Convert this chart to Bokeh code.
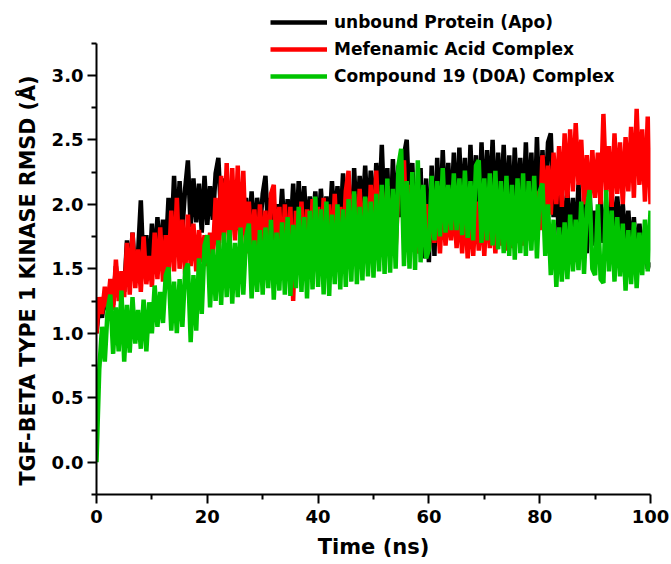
import numpy as np
from bokeh.plotting import figure
from bokeh.models import (ColumnDataSource, FixedTicker, Legend, LegendItem,
                          Title, PrintfTickFormatter)
from bokeh.embed import file_html
from bokeh.resources import INLINE

# RMSD traces (Å), sampled every 0.5 ns from 0 to 100 ns
TIME_STEP_NS = 0.5

apo_rmsd = [
    1.00, 1.22, 1.12, 1.30, 1.18, 1.38, 1.22, 1.52, 1.28, 1.45,
    1.32, 1.72, 1.40, 1.78, 1.45, 1.62, 2.03, 1.48, 1.76, 1.42,
    1.85, 1.52, 1.90, 1.58, 1.88, 1.62, 2.05, 1.70, 2.22, 1.75,
    2.18, 1.80, 2.12, 2.34, 1.82, 2.20, 1.86, 2.16, 1.78, 2.22,
    1.84, 2.14, 1.88, 2.24, 2.36, 1.90, 2.20, 1.85, 2.18, 1.92,
    2.15, 1.80, 2.12, 1.78, 2.05, 1.75, 2.10, 1.72, 2.05, 1.80,
    2.08, 2.22, 1.76, 2.05, 1.72, 2.00, 1.78, 2.12, 1.70, 2.04,
    1.75, 2.16, 1.72, 2.18, 1.80, 2.14, 1.74, 2.06, 1.82, 2.10,
    1.76, 2.12, 1.80, 2.06, 1.78, 2.18, 1.84, 2.14, 1.80, 2.24,
    1.86, 2.20, 1.57, 2.28, 1.82, 2.22, 1.90, 2.30, 1.85, 2.26,
    1.80, 2.32, 1.92, 2.46, 1.88, 2.28, 1.70, 2.35, 1.86, 2.30,
    1.90, 2.38, 2.50, 1.95, 2.32, 1.80, 1.62, 2.28, 1.58, 2.20,
    1.55, 2.30, 1.60, 2.36, 1.80, 2.42, 1.90, 2.32, 1.85, 2.40,
    1.88, 2.44, 1.92, 2.36, 1.80, 2.46, 1.95, 2.38, 1.78, 2.48,
    1.90, 2.42, 2.00, 2.50, 1.85, 2.40, 1.95, 2.46, 1.88, 2.38,
    1.82, 2.44, 1.95, 2.36, 1.86, 2.48, 1.92, 2.40, 1.80, 2.52,
    1.92, 2.42, 2.00, 2.48, 2.55, 1.90, 2.20, 1.70, 2.12, 1.65,
    2.10, 1.70, 2.05, 1.65, 2.16, 1.72, 2.00, 1.62, 2.08, 1.68,
    1.95, 1.62, 2.05, 1.70, 1.98, 1.66, 2.08, 1.75, 2.06, 1.78,
    2.00, 1.68, 1.95, 1.60, 1.90, 1.55, 1.85, 1.62, 1.80, 1.50,
    1.55,
]

mefenamic_rmsd = [
    1.00, 1.28, 1.15, 1.36, 1.20, 1.42, 1.18, 1.57, 1.25, 1.48,
    1.28, 1.70, 1.30, 1.78, 1.35, 1.65, 1.32, 1.75, 1.38, 1.60,
    1.36, 1.78, 1.42, 1.82, 1.40, 1.76, 1.45, 1.95, 1.48, 2.05,
    1.50, 1.88, 1.46, 1.92, 1.52, 1.85, 1.48, 1.80, 1.55, 1.76,
    1.52, 1.78, 1.60, 2.05, 1.62, 2.22, 1.70, 2.32, 1.66, 2.28,
    1.72, 2.30, 1.68, 2.26, 1.62, 2.02, 1.60, 1.96, 1.55, 2.00,
    1.58, 1.95, 1.52, 2.08, 2.15, 1.55, 1.98, 1.50, 2.00, 1.48,
    1.98, 1.25, 1.95, 1.50, 2.02, 1.48, 1.96, 1.52, 2.04, 1.55,
    1.98, 1.52, 2.05, 1.58, 2.00, 1.55, 2.08, 1.60, 1.98, 1.62,
    2.10, 2.26, 1.65, 2.08, 1.62, 2.12, 1.68, 2.05, 1.60, 2.15,
    1.70, 2.26, 1.75, 2.10, 1.68, 2.14, 1.72, 2.05, 1.66, 2.12,
    2.20, 2.34, 1.70, 2.15, 1.65, 2.08, 1.62, 2.02, 1.68, 2.00,
    1.65, 2.05, 1.70, 1.98, 1.62, 2.06, 1.68, 1.95, 1.72, 2.02,
    1.66, 2.00, 1.62, 2.04, 1.58, 1.96, 1.60, 2.02, 1.64, 1.98,
    1.60, 2.04, 1.66, 1.98, 1.62, 2.06, 1.68, 2.00, 1.64, 2.05,
    1.66, 2.02, 1.70, 1.96, 1.68, 2.04, 1.72, 1.98, 1.75, 2.10,
    1.80, 2.38, 1.95, 2.30, 1.92, 2.40, 2.00, 2.45, 1.98, 2.55,
    2.05, 2.58, 2.10, 2.63, 2.15, 2.50, 2.00, 2.38, 1.98, 2.42,
    2.05, 2.40, 2.00, 2.70, 2.10, 2.45, 1.98, 2.55, 2.08, 2.48,
    2.00, 2.52, 2.10, 2.60, 2.05, 2.74, 2.15, 2.58, 2.02, 2.68,
    2.00,
]

compound19_rmsd = [
    0.00, 0.72, 1.05, 0.78, 1.18, 1.30, 0.84, 1.20, 0.86, 1.33,
    0.78, 1.22, 0.85, 1.28, 0.92, 1.18, 0.88, 1.26, 0.86, 1.24,
    1.00, 1.37, 1.05, 1.32, 1.08, 1.45, 1.51, 1.02, 1.40, 1.00,
    1.42, 1.05, 1.48, 1.54, 0.93, 1.45, 1.02, 1.58, 1.15, 1.68,
    1.76, 1.20, 1.65, 1.25, 1.72, 1.22, 1.78, 1.28, 1.80, 1.23,
    1.70, 1.28, 1.82, 1.30, 1.75, 1.85, 1.27, 1.72, 1.32, 1.80,
    1.30, 1.82, 1.35, 1.88, 1.26, 1.78, 1.33, 1.86, 1.30, 1.90,
    1.29, 1.84, 1.35, 1.98, 1.32, 1.90, 1.27, 1.95, 1.34, 2.06,
    1.36, 1.96, 1.30, 2.02, 1.29, 1.92, 1.38, 2.00, 1.34, 1.96,
    1.36, 2.04, 1.40, 2.10, 1.38, 1.98, 1.41, 2.06, 1.44, 2.02,
    1.43, 2.08, 1.48, 2.15, 1.46, 2.20, 1.47, 2.12, 1.50, 2.30,
    2.43, 1.52, 2.18, 1.50, 2.25, 1.49, 2.34, 1.55, 2.15, 1.58,
    1.65, 2.22, 1.72, 2.18, 1.75, 2.28, 1.78, 2.15, 1.80, 2.24,
    1.80, 2.20, 1.76, 2.26, 1.74, 2.18, 1.72, 2.30, 2.34, 1.70,
    2.20, 1.72, 2.24, 1.68, 2.26, 1.65, 2.18, 1.62, 2.22, 1.60,
    2.15, 1.57, 2.20, 1.62, 2.24, 1.60, 2.18, 1.64, 2.22, 1.58,
    2.10, 2.16, 1.60, 2.00, 1.45, 1.88, 1.36, 1.82, 1.40, 1.86,
    1.42, 1.92, 1.48, 1.88, 1.49, 2.02, 1.46, 1.96, 2.11, 1.50,
    1.45, 2.00, 1.42, 1.39, 2.11, 1.48, 1.95, 1.40, 1.90, 1.44,
    1.85, 1.33, 1.80, 1.38, 1.86, 1.35, 1.78, 1.45, 1.88, 1.48,
    1.95,
]

series_names = ["unbound Protein (Apo)", "Mefenamic Acid Complex",
                "Compound 19 (D0A) Complex"]
series_colors = ["#000000", "#ff0000", "#00c400"]

x_major = [0, 20, 40, 60, 80, 100]
x_minor = [10, 30, 50, 70, 90]
y_major = [0.0, 0.5, 1.0, 1.5, 2.0, 2.5, 3.0]
y_minor = [-0.25, 0.25, 0.75, 1.25, 1.75, 2.25, 2.75, 3.25]
y_axis_span = (-0.25, 3.25)

time_ns = np.arange(len(apo_rmsd)) * TIME_STEP_NS

FONT = "DejaVu Sans"

# The frame runs to the top edge so the key can sit above the data;
# the y axis itself only spans -0.25 .. 3.25 Å.
FRAME_H = 494
PX_PER_A = 129.0
y_top = y_axis_span[0] + FRAME_H / PX_PER_A

p = figure(width=671, height=564, x_range=(0, 100),
           y_range=(y_axis_span[0], y_top),
           output_backend="svg", toolbar_location=None,
           min_border_left=96, min_border_right=21,
           min_border_top=0, min_border_bottom=70)
p.outline_line_color = None
p.grid.visible = False
p.background_fill_color = "white"
p.border_fill_color = "white"

renderers = []
for vals, color in zip([apo_rmsd, mefenamic_rmsd, compound19_rmsd], series_colors):
    src = ColumnDataSource(dict(t=time_ns, rmsd=vals))
    r = p.line("t", "rmsd", source=src, line_color=color, line_width=4.5,
               line_join="bevel")
    renderers.append(r)

items = [LegendItem(label=n, renderers=[r]) for n, r in zip(series_names, renderers)]
legend = Legend(items=items, location=(174, 408), orientation="vertical",
                glyph_width=57, glyph_height=20, label_height=20,
                label_standoff=7, spacing=7, padding=0, margin=0,
                border_line_color=None, background_fill_alpha=0,
                label_text_font=FONT, label_text_font_style="bold",
                label_text_font_size="17px", label_text_color="black")
p.add_layout(legend, "center")

for ax in (p.xaxis, p.yaxis):
    ax.axis_line_width = 2
    ax.axis_line_color = "black"
    ax.major_tick_line_width = 2
    ax.minor_tick_line_width = 2
    ax.major_tick_in = 0
    ax.minor_tick_in = 0
    ax.major_tick_out = 9
    ax.minor_tick_out = 5
    ax.major_label_text_font = FONT
    ax.major_label_text_font_style = "bold"
    ax.major_label_text_font_size = "18px"
    ax.major_label_text_color = "black"

p.yaxis.bounds = y_axis_span
p.xaxis.ticker = FixedTicker(ticks=x_major, minor_ticks=x_minor)
p.yaxis.ticker = FixedTicker(ticks=y_major, minor_ticks=y_minor)
p.yaxis.formatter = PrintfTickFormatter(format="%.1f")
p.xaxis.major_label_standoff = 6
p.yaxis.major_label_standoff = 4

p.xaxis.axis_label = "Time (ns)"
p.xaxis.axis_label_text_font = FONT
p.xaxis.axis_label_text_font_style = "bold"
p.xaxis.axis_label_text_font_size = "21px"
p.xaxis.axis_label_text_color = "black"
p.xaxis.axis_label_standoff = 9

# vertical title, starting just above the bottom of the axis
ytitle = Title(text="TGF-BETA TYPE 1 KINASE RMSD (Å)", align="left",
               offset=9, standoff=17, text_font=FONT, text_font_style="bold",
               text_font_size="20.7px", text_color="black")
p.add_layout(ytitle, "left")

open("out.html", "w").write(file_html(p, INLINE))
